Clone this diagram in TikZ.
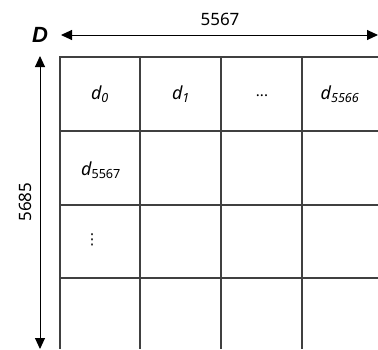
\documentclass[tikz,border=0pt]{standalone}
\usepackage{fontspec}
\setmainfont{Noto Sans}
\newfontfamily\headfont{Liberation Sans}
\newfontfamily\symfont{DejaVu Sans}
\usetikzlibrary{arrows.meta}
\tikzset{
  gridline/.style={draw=black!75, line width=1.1pt},
  dimarrow/.style={line width=1pt, {Triangle[length=11pt,width=10pt]}-{Triangle[length=11pt,width=10pt]}},
  celltext/.style={font=\fontsize{18}{21}\selectfont\itshape, inner sep=0pt},
  dimtext/.style={font=\fontsize{17}{20}\selectfont, inner sep=0pt}
}
\begin{document}
\begin{tikzpicture}[x=1pt,y=-1pt]
  \useasboundingbox (0,0) rectangle (378,349);
  % matrix grid, open to the right and at the bottom
  \draw[gridline] (378,57) -- (60,57) -- (60,349);
  \foreach \x in {140,221,302} \draw[gridline] (\x,57) -- (\x,349);
  \foreach \y in {131,205,278} \draw[gridline] (60,\y) -- (378,\y);
  % cell entries
  \node[celltext] (c00) at (100,94) {d\textsubscript{0}};
  \node[celltext] (c01) at (181,94) {d\textsubscript{1}};
  \node[inner sep=0pt, font=\fontsize{15}{17}\selectfont] (c02) at (262,96) {...};
  \node[celltext] (c03) at (340,94) {d\textsubscript{5566}};
  \node[celltext] (c10) at (101,170) {d\textsubscript{\upshape 5567}};
  \node[inner sep=0pt, font=\fontsize{15}{17}\selectfont\symfont] (c20) at (92,240) {⋮};
  % dimensions
  \node[font=\fontsize{22}{25}\selectfont\headfont\bfseries\itshape, inner sep=0pt] (D) at (40,35) {D};
  \coordinate (hl) at (61,35);
  \coordinate (hr) at (378,35);
  \draw[dimarrow] (hl) -- (hr);
  \node[dimtext] (w) at (220,19) {5567};
  \coordinate (vt) at (40,56);
  \coordinate (vb) at (40,349);
  \draw[dimarrow] (vt) -- (vb);
  \node[dimtext, rotate=90] (h) at (25,202) {5685};
\end{tikzpicture}
\end{document}
